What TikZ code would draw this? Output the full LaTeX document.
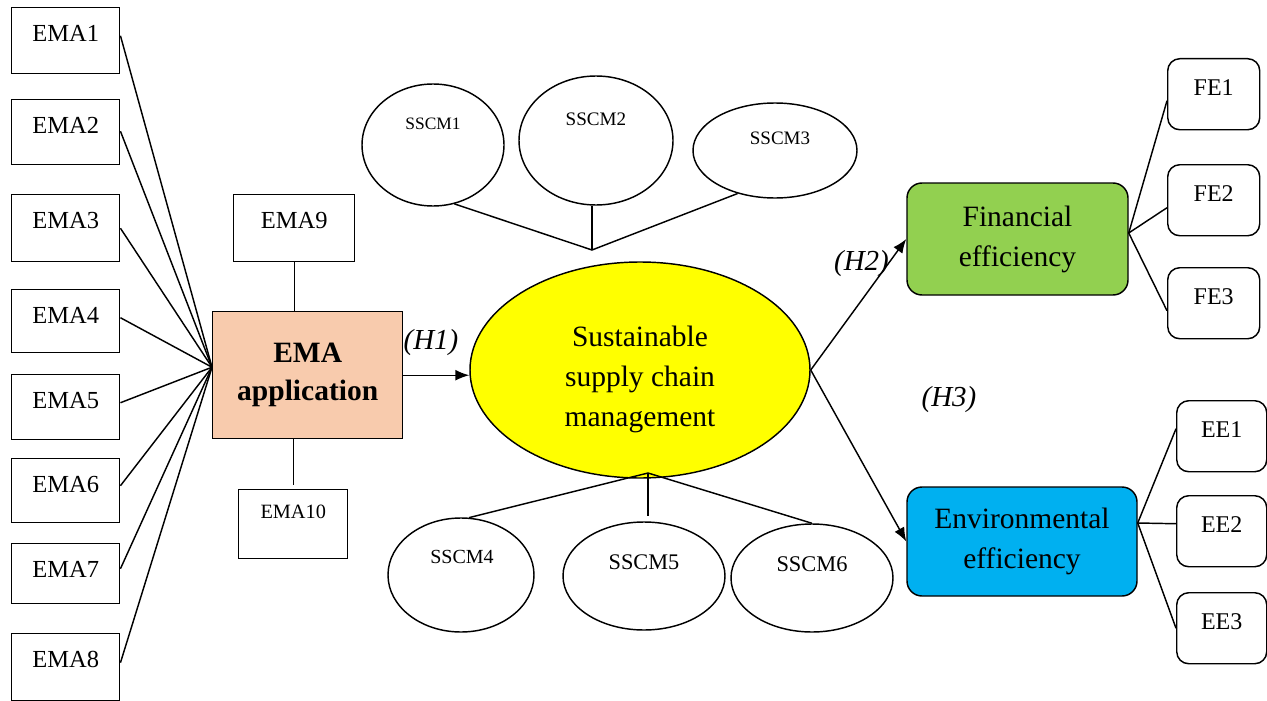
\documentclass[tikz,border=0pt]{standalone}
\usepackage{fontspec}
\setmainfont{Liberation Serif}
\usetikzlibrary{shapes.geometric,arrows.meta,calc}
\definecolor{peach}{HTML}{F8CBAD}
\definecolor{fgreen}{HTML}{92D050}
\definecolor{eblue}{HTML}{00B0F0}
\definecolor{ayellow}{HTML}{FFFF00}
\begin{document}
\begin{tikzpicture}[x=1pt,y=-1pt,line width=1.45pt,
  every node/.style={inner sep=0pt},
  sq/.style={draw, anchor=north west, minimum width=108pt, text height=34pt, font=\fontsize{24.5}{28}\selectfont},
  rbox/.style={draw, rounded corners=12pt, anchor=north west, text height=37pt, text depth=34pt, font=\fontsize{24}{28}\selectfont},
  oval/.style={draw, ellipse},
  big/.style={font=\fontsize{29.5}{40}\selectfont, align=center},
  hyp/.style={font=\fontsize{29}{34}\selectfont\itshape},
  arr/.style={-{Latex[length=14pt,width=11pt]}},
]
\useasboundingbox (0,0) rectangle (1267,701);

% EMA indicator boxes
\node[sq, text depth=32pt] (e1) at (11,7) {EMA1};
\node[sq, text depth=31pt] (e2) at (11,99) {EMA2};
\node[sq, text depth=33pt] (e3) at (11,194) {EMA3};
\node[sq, text depth=29pt] (e4) at (11,289) {EMA4};
\node[sq, text depth=31pt] (e5) at (11,374) {EMA5};
\node[sq, text depth=30pt] (e6) at (11,458) {EMA6};
\node[sq, text depth=26pt] (e7) at (11,543) {EMA7};
\node[sq, text depth=33pt] (e8) at (11,633) {EMA8};
\node[sq, minimum width=121pt, text depth=33pt] (e9) at (233,194) {EMA9};
\node[sq, minimum width=109pt, text height=29pt, text depth=40pt, font=\fontsize{20.3}{24}\selectfont] (e10) at (238,489) {EMA10};

% EMA application
\node[draw, fill=peach, anchor=north west, minimum width=190pt, minimum height=127pt, align=center, font=\fontsize{29.5}{38}\selectfont\bfseries] (app) at (212,311) {EMA\\application};

% main construct
\node[oval, fill=ayellow, minimum width=340pt, minimum height=216pt,
  label={[big, yshift=-9pt]center:{Sustainable\\supply chain\\management}}] (main) at (640,370) {};

% SSCM ellipses
\node[oval, minimum width=142pt, minimum height=122pt, label={[font=\fontsize{17.4}{20}\selectfont, yshift=21.5pt]center:SSCM1}] (s1) at (433,145) {};
\node[oval, minimum width=154pt, minimum height=129pt, label={[font=\fontsize{19.1}{22}\selectfont, yshift=21pt]center:SSCM2}] (s2) at (596,140.5) {};
\node[oval, minimum width=164pt, minimum height=95pt, label={[font=\fontsize{19}{22}\selectfont, yshift=12.5pt, xshift=5pt]center:SSCM3}] (s3) at (775,150.5) {};
\node[oval, minimum width=146pt, minimum height=114pt, label={[font=\fontsize{20}{23}\selectfont, yshift=18pt, xshift=1pt]center:SSCM4}] (s4) at (461,575) {};
\node[oval, minimum width=162pt, minimum height=108pt, label={[font=\fontsize{22.3}{26}\selectfont, yshift=14pt]center:SSCM5}] (s5) at (644,576) {};
\node[oval, minimum width=162pt, minimum height=108pt, label={[font=\fontsize{22.4}{26}\selectfont, yshift=14pt]center:SSCM6}] (s6) at (812,578) {};

% outcome constructs
\node[draw, fill=fgreen, rounded corners=15pt, minimum width=221pt, minimum height=112pt, big] (fin) at (1017.5,239) {Financial\\efficiency};
\node[draw, fill=eblue, rounded corners=15pt, minimum width=230pt, minimum height=109pt, big] (env) at (1022,541.5) {Environmental\\efficiency};

% FE / EE indicators
\node[rbox, minimum width=92pt] (f1) at (1167,58) {FE1};
\node[rbox, minimum width=92pt] (f2) at (1167,164) {FE2};
\node[rbox, minimum width=92pt] (f3) at (1167,267) {FE3};
\node[rbox, minimum width=90pt] (ee1) at (1176,400) {EE1};
\node[rbox, minimum width=90pt] (ee2) at (1176,495) {EE2};
\node[rbox, minimum width=90pt] (ee3) at (1176,592) {EE3};

% hypothesis labels
\node[hyp] (h1) at (431,343) {(H1)};
\node[hyp] (h2) at (861.5,263.5) {(H2)};
\node[hyp] (h3) at (949,400) {(H3)};

% EMA connectors
\coordinate (conv) at ([yshift=8pt]app.west);
\foreach \n/\s in {e1/5,e2/1,e3/0,e4/3.5,e5/4.5,e6/5,e7/5,e8/4.5}
  \draw ([yshift=\s pt]\n.east) -- (conv);
\draw (e9.south) -- (e9.south |- app.north);
\draw (app.south -| e10.north) -- ([yshift=4pt]e10.north);

% structural paths
\draw[arr] (app.east) -- (app.east -| main.west);
\draw[arr] (main.east) -- (fin.west);
\draw[arr] (main.east) -- (env.west);

% SSCM connectors
\coordinate (top) at (592,250);
\draw (s1.-70) -- (top) -- (s3.-131);
\draw (top) -- (top |- s2.south);
\coordinate (bot) at (648,473);
\draw (s4.82) -- (bot) -- (s6.north);
\draw (bot) -- ($(bot |- s5.north)+(0,-5)$);

% FE / EE connectors
\draw ([yshift=6pt]fin.east) -- ([yshift=-6.5pt]f1.west);
\draw ([yshift=6pt]fin.east) -- ([yshift=-7.5pt]f2.west);
\draw ([yshift=6pt]fin.east) -- ([yshift=-7.5pt]f3.west);
\draw ([yshift=18.5pt]env.east) -- ([yshift=7.5pt]ee1.west);
\draw ([yshift=18.5pt]env.east) -- ([yshift=7.5pt]ee2.west);
\draw ([yshift=18.5pt]env.east) -- (ee3.west);
\end{tikzpicture}
\end{document}
